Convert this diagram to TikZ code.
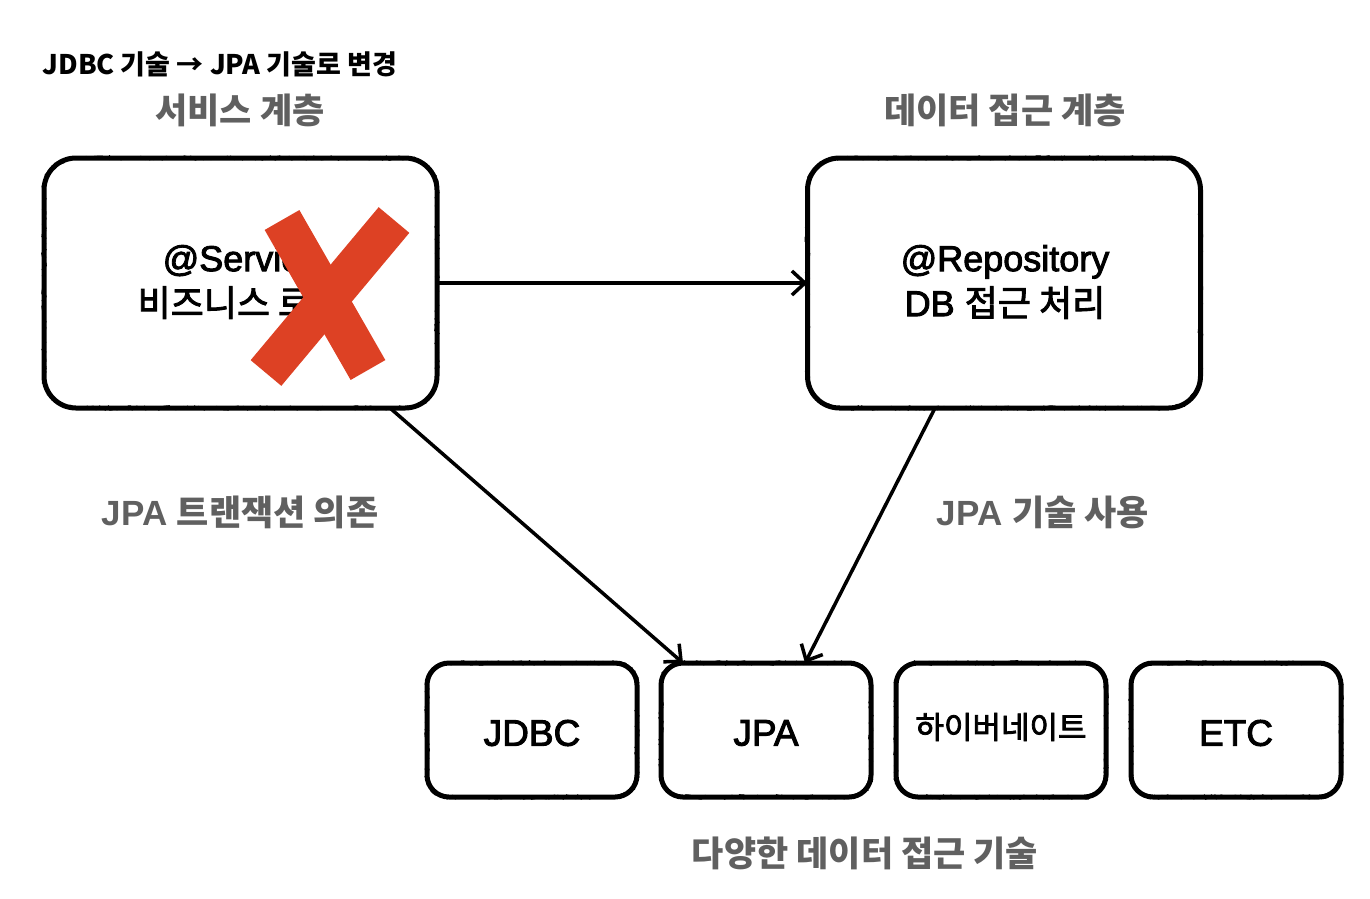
\documentclass[tikz,border=0pt]{standalone}
\usepackage{fontspec}
\setmainfont{Liberation Sans}
\newfontfamily\kr{Noto Sans CJK KR}
\newfontfamily\krm{Noto Sans CJK KR}[FakeBold=2.5]
\newfontfamily\med{Liberation Sans}[FakeBold=2.5]
\usetikzlibrary{arrows.meta,decorations.pathmorphing,calc}
\definecolor{lblgray}{HTML}{606060}
\definecolor{xred}{HTML}{DD4124}
\tikzset{
  sketch/.style={draw=black, line width=5pt, line join=round, outer sep=0pt},
  rough/.style={postaction={draw=black, sharp corners, line width=0.9pt, line join=round, line cap=round,
      decorate, decoration={random steps, segment length=1.8pt, amplitude=2.4pt}}},
  bigbox/.style={sketch, rounded corners=32pt, minimum width=393pt, minimum height=250pt, inner sep=0pt},
  techbox/.style={sketch, rounded corners=22pt, minimum width=210pt, minimum height=134pt, inner sep=0pt},
  lbl/.style={text=lblgray, font=\bfseries\fontsize{35}{38}\selectfont},
  conn/.style={line width=3.5pt, -{Straight Barb[length=13pt, width=24pt]}},
  xstroke/.style={line width=40pt, xred, line cap=butt}
}
\pgfmathsetseed{7}
\begin{document}
\begin{tikzpicture}[x=1pt,y=-1pt]
\useasboundingbox (0,0) rectangle (1370,898);
\node[anchor=west, font=\kr\bfseries\fontsize{27}{30}\selectfont] (title) at (39,64) {JDBC 기술 → JPA 기술로 변경};
\node[lbl] (svclbl) at (240,110) {\kr 서비스 계층};
\node[lbl] (repolbl) at (1005,110) {\kr 데이터 접근 계층};
\node[bigbox] (service) at (240.5,283) {};
\node[bigbox] (repo) at (1004,283) {};
\path[rough, rounded corners=32pt] (service.north west) rectangle (service.south east);
\path[rough, rounded corners=32pt] (repo.north west) rectangle (repo.south east);
\node[font=\fontsize{36}{44}\selectfont, align=center] (svctext) at (241,282) {{\med @Service}\\[1pt]{\krm 비즈니스 로직}};
\node[font=\fontsize{36}{44}\selectfont, align=center] (repotext) at (1005,282) {{\med @Repository}\\[1pt]{\med DB} {\krm 접근 처리}};
\node[techbox] (jdbc) at (532,730) {};
\node[techbox] (jpa) at (766,730) {};
\node[techbox] (hib) at (1001,730) {};
\node[techbox] (etc) at (1236,730) {};
\foreach \b in {jdbc,jpa,hib,etc}
  \path[rough, rounded corners=22pt] (\b.north west) rectangle (\b.south east);
\node[font=\med\fontsize{37}{40}\selectfont] (jdbct) at (532,733) {JDBC};
\node[font=\med\fontsize{37}{40}\selectfont] (jpat) at (766,733) {JPA};
\node[font=\krm\fontsize{31}{34}\selectfont] (hibt) at (1001,727) {하이버네이트};
\node[font=\med\fontsize{37}{40}\selectfont] (etct) at (1236,733) {ETC};
\node[lbl] (deplbl) at (240,512) {JPA {\kr 트랜잭션 의존}};
\node[lbl] (uselbl) at (1043,512) {JPA {\kr 기술 사용}};
\node[lbl] (techlbl) at (865,853) {\kr 다양한 데이터 접근 기술};
\draw[conn] (service.east) -- (repo.west);
\draw[conn] ([xshift=-47pt]service.south east) -- ([xshift=-83pt]jpa.north);
\draw[conn] ([xshift=-69pt]repo.south) -- ([xshift=39pt]jpa.north);
\draw[xstroke] (282,220) -- (368,370);
\draw[xstroke] (394,220) -- (266,373);
\end{tikzpicture}
\end{document}
